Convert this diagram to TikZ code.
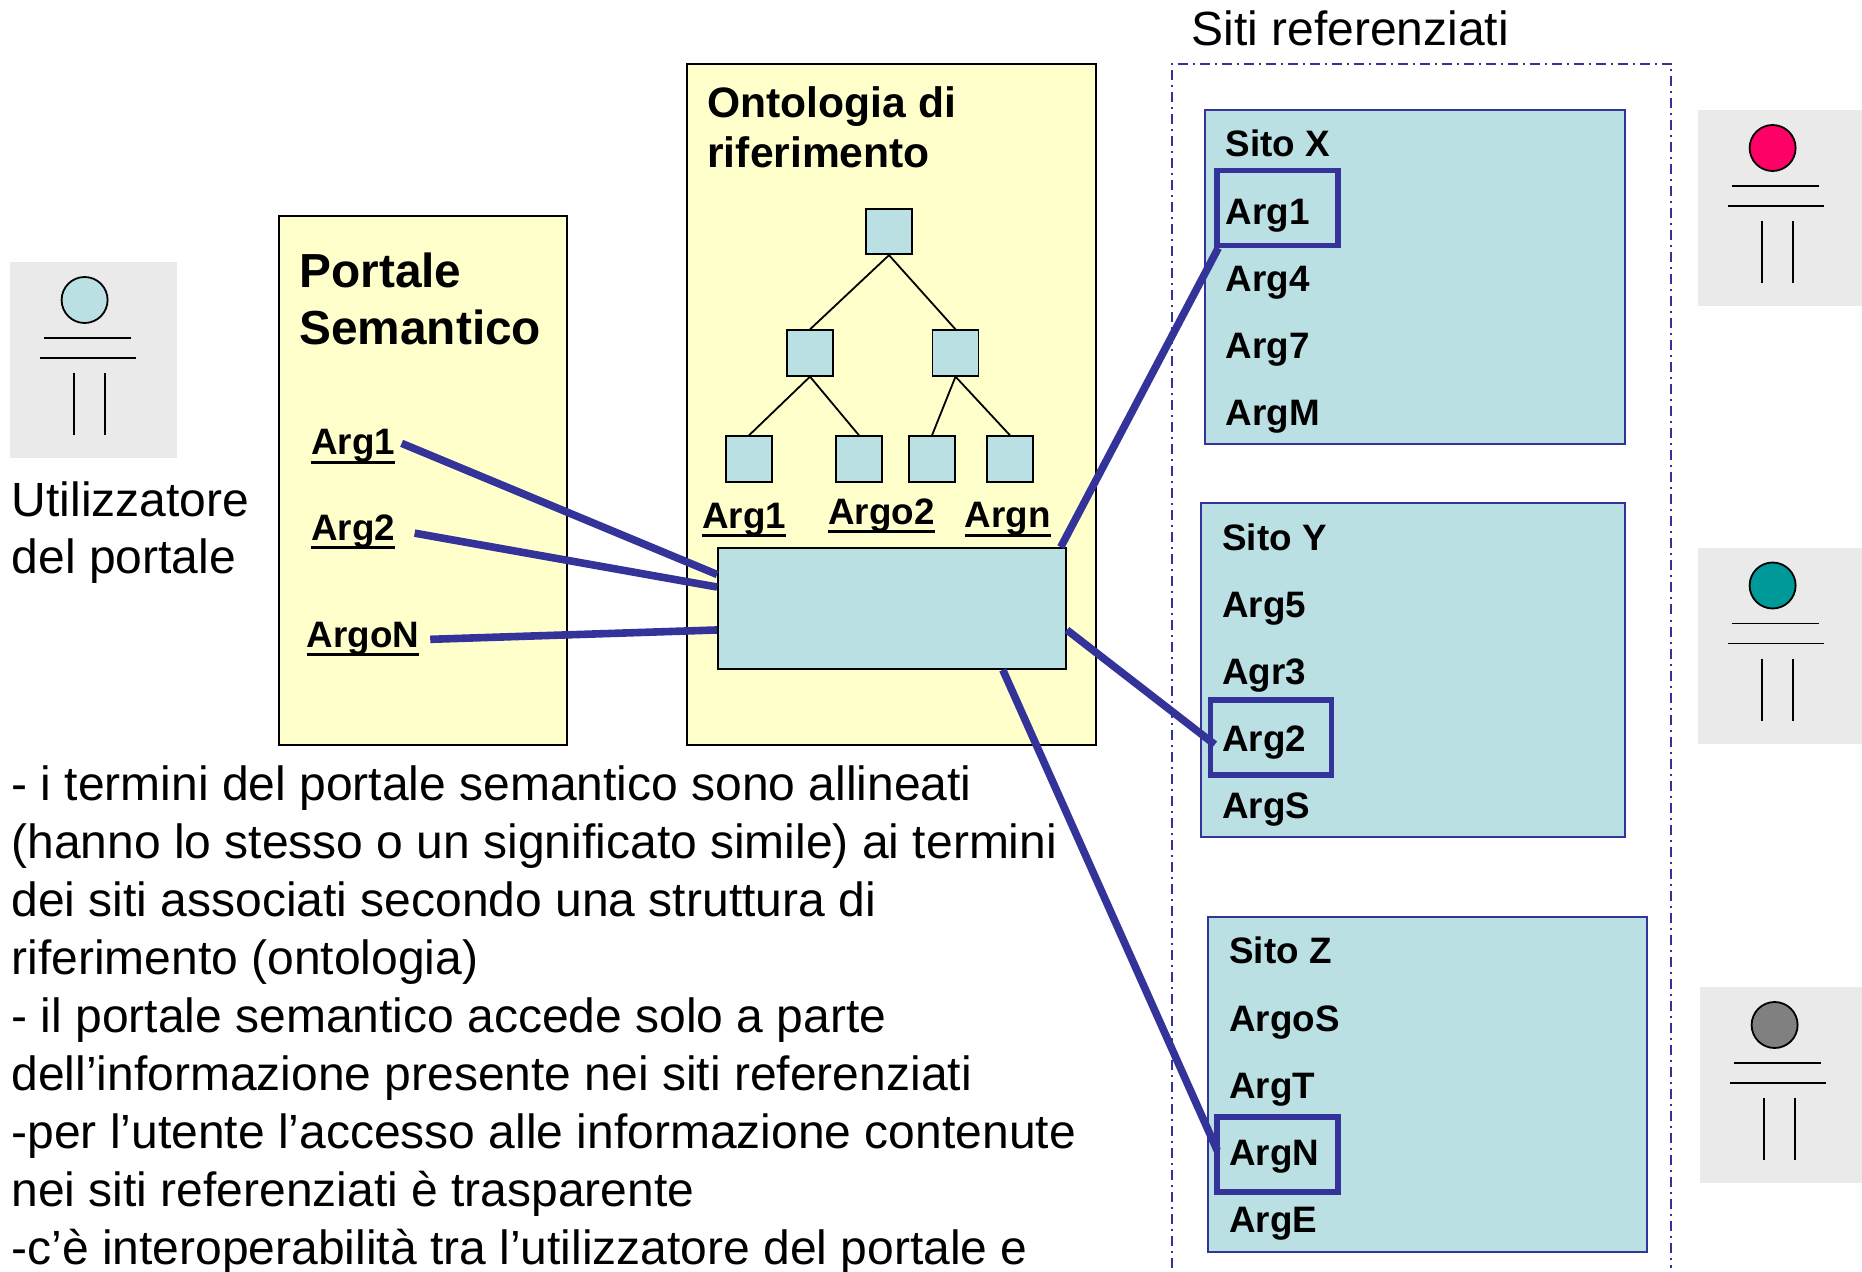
\documentclass[tikz,border=0pt]{standalone}
\usepackage{fontspec}
\setmainfont{Liberation Sans}
\usepackage{tikz}

\definecolor{sitefill}{HTML}{BBE0E3}
\definecolor{boxfill}{HTML}{FFFFCC}
\definecolor{linkblue}{HTML}{333399}
\definecolor{actorbg}{HTML}{EAEAEA}
\definecolor{actorpink}{HTML}{FF0066}
\definecolor{actorteal}{HTML}{009999}
\definecolor{actorgrey}{HTML}{808080}

% underlined term, with a heavier rule than \underline gives
\newcommand{\ulterm}[1]{\setbox0\hbox{#1}\rlap{\rule[-4.5pt]{\wd0}{1.6pt}}\box0}

\begin{document}
\begin{tikzpicture}[x=0.5pt, y=-0.5pt]
	\useasboundingbox (0,0) rectangle (1862,1272);
	% Define styles
	\tikzstyle{panel}=[rectangle, draw=black, line width=1pt, fill=boxfill, inner sep=0pt]
	\tikzstyle{leaf}=[rectangle, draw=black, line width=0.9pt, fill=sitefill, minimum width=23pt, minimum height=22.75pt, inner sep=0pt]
	\tikzstyle{site}=[rectangle, draw=linkblue, line width=1pt, fill=sitefill, inner sep=0pt]
	\tikzstyle{pick}=[rectangle, draw=linkblue, line width=2.75pt, minimum width=60.5pt, minimum height=37.5pt, inner sep=0pt]
	\tikzstyle{plain}=[anchor=base west, inner sep=0pt, align=left, font=\fontsize{24}{28.95}\selectfont]
	\tikzstyle{head}=[plain, font=\fontsize{23.9}{28.5}\selectfont\bfseries]
	\tikzstyle{term}=[anchor=base west, inner sep=0pt, font=\fontsize{18.4}{22}\selectfont\bfseries]
	\tikzstyle{treeline}=[draw=black, line width=0.9pt]
	\tikzstyle{link}=[draw=linkblue, line width=3.8pt]

	% actors
	\foreach \ax/\ay/\aw/\acol in {10/262/167/sitefill, 1698/110/164/actorpink, 1698/547.5/164/actorteal, 1700/987/162/actorgrey}{
		\fill[actorbg] (\ax,\ay) rectangle ++(\aw,196);
		\draw[black, line width=0.9pt, fill=\acol] (\ax+74.6,\ay+38) circle (11.5pt);
		\draw[black, line width=0.9pt] (\ax+33.5,\ay+76) -- ++(87.5,0);
		\draw[black, line width=0.9pt] (\ax+29.5,\ay+96) -- ++(96,0);
		\draw[black, line width=0.9pt] (\ax+64,\ay+111) -- ++(0,62);
		\draw[black, line width=0.9pt] (\ax+95,\ay+111) -- ++(0,62);
	}
	\node[plain] (user) at (11.5,574) {Utilizzatore\\del portale};

	% portal
	\node[panel, minimum width=143.8pt, minimum height=264.65pt] (portal) at (422.8,480.35) {};
	\node[head] (portaltitle) at (299,345) {Portale\\Semantico};
		\node[term] (parg1) at (311,455) {\ulterm{Arg1}};
		\node[term] (parg2) at (311,540.5) {\ulterm{Arg2}};
		\node[term] (pargn) at (306.5,647) {\ulterm{ArgoN}};

	% ontology
	\node[panel, minimum width=204.5pt, minimum height=340.5pt] (onto) at (891.5,404.5) {};
	\node[head, font=\fontsize{21.3}{25.3}\selectfont\bfseries] (ontotitle) at (707,168) {Ontologia di\\riferimento};
		\node[leaf] (root) at (889,231.5) {};
		\node[leaf] (mida) at (810,353) {};
		\node[leaf] (midb) at (955.5,353) {};
		\node[leaf] (leafa) at (749,459) {};
		\node[leaf] (leafb) at (859,459) {};
		\node[leaf] (leafc) at (932,459) {};
		\node[leaf] (leafd) at (1010,459) {};
		\draw[treeline] (root.south) -- (mida.north);
		\draw[treeline] (root.south) -- (midb.north);
		\draw[treeline] (mida.south) -- (leafa.north);
		\draw[treeline] (mida.south) -- (leafb.north);
		\draw[treeline] (midb.south) -- (leafc.north);
		\draw[treeline] (midb.south) -- (leafd.north);
		\node[term] (oarg1) at (702,528.5) {\ulterm{Arg1}};
		\node[term] (oarg2) at (828,524) {\ulterm{Argo2}};
		\node[term] (oargn) at (964.5,528) {\ulterm{Argn}};
	\node[leaf, minimum width=174pt, minimum height=60.5pt] (core) at (892,608.5) {};

	% referenced sites
	\node[plain] (sitestitle) at (1191,45.7) {Siti referenziati};
	\draw[linkblue, line width=1pt, dash pattern=on 5pt off 2.5pt on 1pt off 2.5pt] (1171.5,1268) -- (1171.5,64) -- (1671,64) -- (1671,1268);

	\node[site, minimum width=210.25pt, minimum height=167pt] (sitex) at (1414.75,277) {};
	\node[pick] (pickx) at (1277.5,207.8) {};
		\node[term] (xa) at (1225.5,157) {Sito X};
		\node[term] (xb) at (1225.5,224.5) {Arg1};
		\node[term] (xc) at (1225.5,291.2) {Arg4};
		\node[term] (xd) at (1225.5,358.6) {Arg7};
		\node[term] (xe) at (1225.5,425.5) {ArgM};

	\node[site, minimum width=211.75pt, minimum height=167pt] (sitey) at (1412.75,670) {};
	\node[pick] (picky) at (1271,737.5) {};
		\node[term] (ya) at (1222,551) {Sito Y};
		\node[term] (yb) at (1222,617.5) {Arg5};
		\node[term] (yc) at (1222,684.5) {Agr3};
		\node[term] (yd) at (1222,751.5) {Arg2};
		\node[term] (ye) at (1222,818) {ArgS};

	\node[site, minimum width=219.5pt, minimum height=167.5pt] (sitez) at (1427.5,1084) {};
	\node[pick] (pickz) at (1277.5,1154.5) {};
		\node[term] (za) at (1229,963) {Sito Z};
		\node[term] (zb) at (1229,1031) {ArgoS};
		\node[term] (zc) at (1229,1098) {ArgT};
		\node[term] (zd) at (1229,1165.5) {ArgN};
		\node[term] (ze) at (1229,1232) {ArgE};

	% links
	\draw[link] ([shift={(6,-3.5)}]parg1.east) -- (core.169);
	\draw[link] ([shift={(19,1)}]parg2.east) -- (core.173);
	\draw[link] ([shift={(10.5,0.5)}]pargn.east) -- (core.187);
	\draw[link] (core.20.2) -- ([shift={(4,0)}]pickx.south west);
	\draw[link] (core.353) -- ([shift={(7,7)}]picky.west);
	\draw[link] (core.331.8) -- ([shift={(3,-4)}]pickz.west);

	\node[plain] (notes) at (11,1264) {- i termini del portale semantico sono allineati\\(hanno lo stesso o un significato simile) ai termini\\dei siti associati secondo una struttura di\\riferimento (ontologia)\\- il portale semantico accede solo a parte\\dell’informazione presente nei siti referenziati\\-per l’utente l’accesso alle informazione contenute\\nei siti referenziati è trasparente\\-c’è interoperabilità tra l’utilizzatore del portale e};
\end{tikzpicture}
\end{document}
